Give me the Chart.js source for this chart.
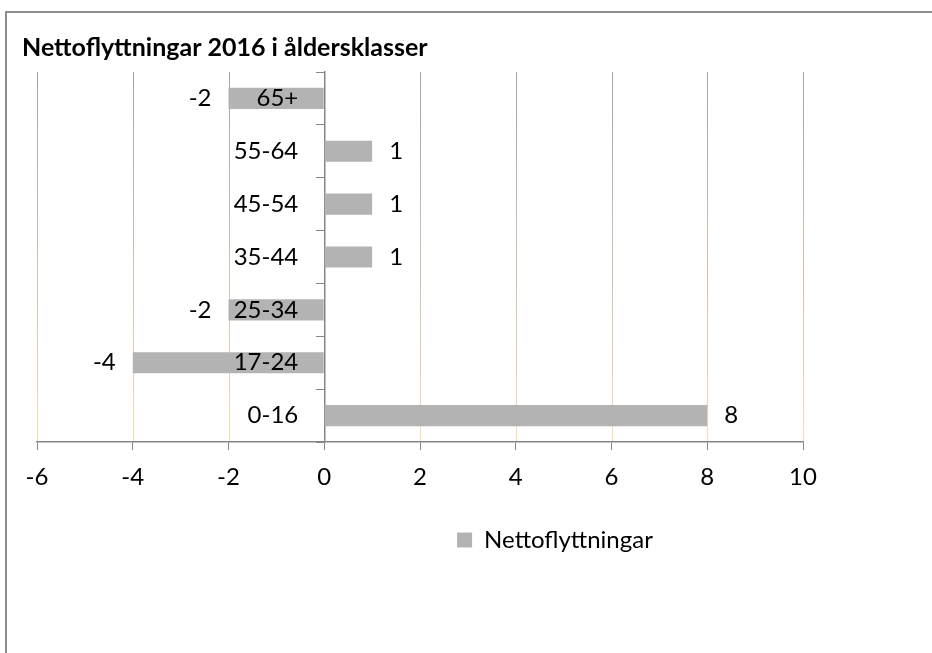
<!DOCTYPE html>
<html>
<head>
<meta charset="utf-8">
<script src="https://cdn.jsdelivr.net/npm/chart.js@4"></script>
<style>
  html, body { margin: 0; padding: 0; background: #fff; overflow: hidden; }
  #frame { position: absolute; left: 5px; top: 11px; width: 1000px; height: 700px;
           border-left: 2px solid #8e8e8e; border-top: 2px solid #8e8e8e; }
  #chart { position: absolute; left: 0; top: 0; }
</style>
</head>
<body>
<div id="frame"></div>
<canvas id="chart" width="932" height="653"></canvas>
<script>
const title = 'Nettoflyttningar 2016 i åldersklasser';
const seriesName = 'Nettoflyttningar';
const categories = ['65+', '55-64', '45-54', '35-44', '25-34', '17-24', '0-16'];
const values = [-2, 1, 1, 1, -2, -4, 8];
const xMin = -6;
const xMax = 10;
const xStep = 2;

Chart.defaults.font.family = 'Lato';
Chart.defaults.font.size = 24;
Chart.defaults.color = '#000';

// gridlines with a grey-to-peach gradient, category labels next to the zero
// line, value labels at the bar ends
const barLabels = {
    id: 'barLabels',
    afterLayout(chart) {
        if (chart.titleBlock) {
            chart.titleBlock.left = 22;
        }
        if (chart.legend) {
            chart.legend.left += 135;
            chart.legend.right += 135;
        }
    },
    beforeDraw(chart) {
        const ctx = chart.ctx;
        const area = chart.chartArea;
        const xs = chart.scales.x;
        const grad = ctx.createLinearGradient(0, area.top, 0, area.bottom);
        grad.addColorStop(0, '#a4a4a4');
        grad.addColorStop(1, '#fcd8b6');
        ctx.save();
        ctx.strokeStyle = grad;
        ctx.lineWidth = 1;
        xs.ticks.forEach((t) => {
            const x = Math.round(xs.getPixelForValue(t.value)) + 0.5;
            ctx.beginPath();
            ctx.moveTo(x, area.top);
            ctx.lineTo(x, area.bottom);
            ctx.stroke();
        });
        ctx.restore();
    },
    afterDatasetsDraw(chart) {
        const ctx = chart.ctx;
        const meta = chart.getDatasetMeta(0);
        const zeroX = chart.scales.x.getPixelForValue(0);
        ctx.save();
        ctx.font = '24px Lato';
        ctx.fillStyle = '#000';
        ctx.textBaseline = 'middle';
        meta.data.forEach((bar, i) => {
            const y = chart.scales.y.getPixelForValue(i);
            ctx.textAlign = 'right';
            ctx.fillText(categories[i], zeroX - 26, y);
            const v = values[i];
            if (v < 0) {
                ctx.textAlign = 'right';
                ctx.fillText(String(v), bar.x - 17, bar.y);
            } else {
                ctx.textAlign = 'left';
                ctx.fillText(String(v), bar.x + 17, bar.y);
            }
        });
        ctx.restore();
    }
};

new Chart(document.getElementById('chart'), {
    type: 'bar',
    data: {
        labels: categories,
        datasets: [{
            label: seriesName,
            data: values,
            backgroundColor: '#b3b3b3',
            barPercentage: 0.4,
            categoryPercentage: 1
        }]
    },
    options: {
        indexAxis: 'y',
        responsive: false,
        animation: false,
        layout: {
            padding: { left: 37, right: 129, top: 0, bottom: 91 }
        },
        scales: {
            x: {
                min: xMin,
                max: xMax,
                ticks: { stepSize: xStep, padding: 13 },
                grid: {
                    drawOnChartArea: false,
                    color: '#868686',
                    tickLength: 8
                },
                border: { color: '#868686', width: 1.5 },
                afterFit: (scale) => { scale.height = 76; }
            },
            y: {
                position: { x: 0 },
                ticks: { display: false },
                grid: {
                    drawOnChartArea: false,
                    color: '#868686',
                    tickLength: 8
                },
                border: { color: '#868686', width: 1.5 }
            }
        },
        plugins: {
            title: {
                display: true,
                text: title,
                align: 'start',
                font: { size: 25, weight: 'bold' },
                padding: { top: 33, bottom: 9 }
            },
            legend: {
                position: 'bottom',
                labels: {
                    boxWidth: 15,
                    boxHeight: 15,
                    padding: 10
                }
            },
            tooltip: { enabled: false }
        }
    },
    plugins: [barLabels]
});
</script>
</body>
</html>
